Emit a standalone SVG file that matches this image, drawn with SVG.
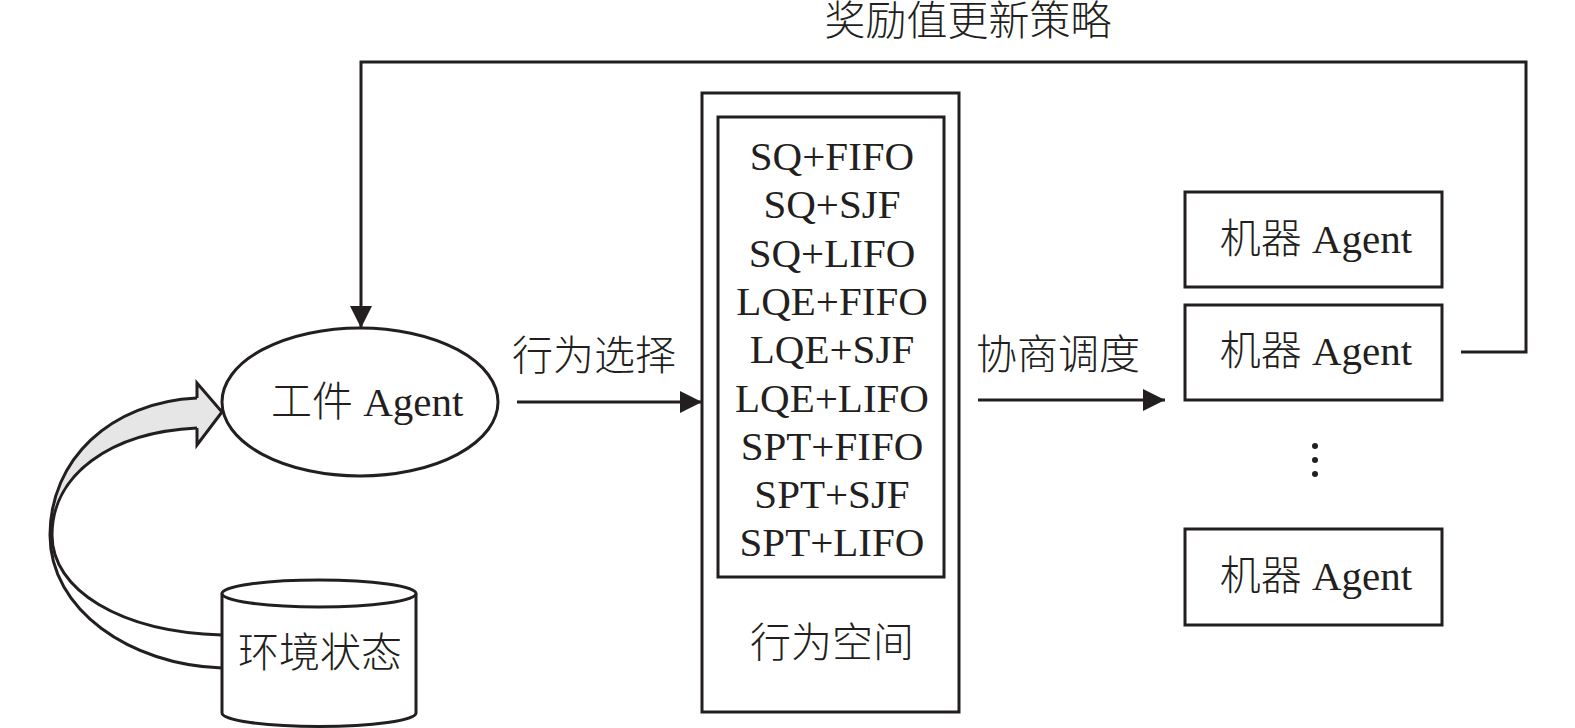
<svg xmlns="http://www.w3.org/2000/svg" width="1575" height="728" viewBox="0 0 1575 728">
<style>
.t{font-family:"Liberation Serif","Noto Sans CJK SC",serif;font-size:41px;font-weight:300;fill:#231f20}
.c{text-anchor:middle}
.s{fill:none;stroke:#231f20;stroke-width:3}
.b{fill:#fff;stroke:#231f20;stroke-width:3}
</style>
<defs>
<marker id="ah" markerUnits="userSpaceOnUse" markerWidth="22" markerHeight="22" refX="20" refY="10" orient="auto" viewBox="0 0 20 20">
<path d="M0,0 L20,10 L0,20 z" fill="#231f20"/>
</marker>
</defs>
<rect width="1575" height="728" fill="#fff"/>

<g id="connectors">
<path class="s" d="M1461,352 H1526 V62 H361 V328" marker-end="url(#ah)"/>
<path class="s" d="M517,402 H702" marker-end="url(#ah)"/>
<path class="s" d="M978,400 H1165" marker-end="url(#ah)"/>
<text class="t c" x="968" y="35">奖励值更新策略</text>
<text class="t c" x="594" y="370">行为选择</text>
<text class="t c" x="1058" y="369">协商调度</text>
<g id="state-arrow">
<path d="M197,398 C110,402 50,460 50,535 C52,475 110,432 197,428 z" fill="#e6e6e6"/>
<path d="M197,398 L197,383 L222,412 L197,445 L197,428" fill="#e6e6e6" stroke="#231f20" stroke-width="3" stroke-linejoin="miter"/>
<path class="s" d="M197,398 C110,402 50,460 50,535 C50,610 130,665 222,668"/>
<path class="s" d="M197,428 C110,432 52,475 52,535 C52,590 120,632 222,635"/>
</g>
</g>

<g id="workpiece-agent">
<ellipse class="b" cx="360" cy="402" rx="138" ry="74"/>
<text class="t" x="271" y="416">工件 Agent</text>
</g>

<g id="env-state">
<path class="b" d="M222,593.5 V713 A97,13.5 0 0 0 416,713 V593.5"/>
<ellipse class="b" cx="319" cy="593.5" rx="97" ry="13.5"/>
<text class="t c" x="320" y="667">环境状态</text>
</g>

<g id="action-space">
<rect class="b" x="702" y="93" width="257" height="619"/>
<rect class="b" x="718" y="117" width="226" height="460"/>
<text class="t c" x="832" y="170">SQ+FIFO</text>
<text class="t c" x="832" y="218.3">SQ+SJF</text>
<text class="t c" x="832" y="266.6">SQ+LIFO</text>
<text class="t c" x="832" y="314.9">LQE+FIFO</text>
<text class="t c" x="832" y="363.2">LQE+SJF</text>
<text class="t c" x="832" y="411.5">LQE+LIFO</text>
<text class="t c" x="832" y="459.8">SPT+FIFO</text>
<text class="t c" x="832" y="508.1">SPT+SJF</text>
<text class="t c" x="832" y="556.4">SPT+LIFO</text>
<text class="t c" x="832" y="657">行为空间</text>
</g>

<g id="machine-agent-1">
<rect class="b" x="1185" y="192" width="257" height="95"/>
<text class="t c" x="1316" y="253">机器 Agent</text>
</g>
<g id="machine-agent-2">
<rect class="b" x="1185" y="305" width="257" height="95"/>
<text class="t c" x="1316" y="365">机器 Agent</text>
</g>
<g id="ellipsis">
<circle cx="1315" cy="446" r="3" fill="#231f20"/>
<circle cx="1315" cy="460" r="3" fill="#231f20"/>
<circle cx="1315" cy="474" r="3" fill="#231f20"/>
</g>
<g id="machine-agent-n">
<rect class="b" x="1185" y="529" width="257" height="96"/>
<text class="t c" x="1316" y="590">机器 Agent</text>
</g>
</svg>
